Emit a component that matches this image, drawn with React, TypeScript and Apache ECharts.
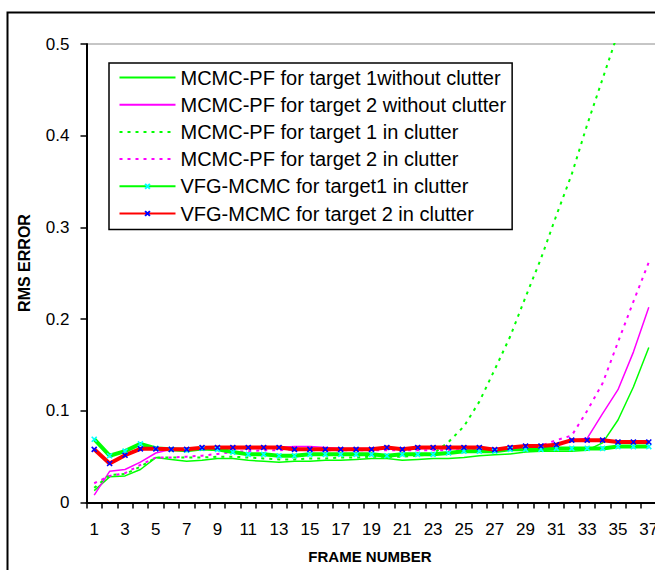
import React, { useEffect, useRef } from 'react';
import * as echarts from 'echarts';

const frames = ['1','2','3','4','5','6','7','8','9','10','11','12','13','14','15','16','17','18','19','20','21','22','23','24','25','26','27','28','29','30','31','32','33','34','35','36','37'];

const yMin = 0;
const yMax = 0.5;
const yStep = 0.1;

const pfT1NoClutter = [0.013,0.028,0.029,0.036,0.049,0.047,0.045,0.046,0.048,0.048,0.046,0.045,0.044,0.045,0.045,0.046,0.046,0.047,0.048,0.048,0.046,0.047,0.048,0.048,0.049,0.051,0.052,0.053,0.055,0.056,0.056,0.056,0.057,0.065,0.09,0.126,0.169];
const pfT2NoClutter = [0.008,0.034,0.036,0.044,0.054,0.058,0.058,0.058,0.059,0.059,0.059,0.059,0.060,0.061,0.061,0.060,0.059,0.059,0.059,0.059,0.059,0.059,0.059,0.059,0.059,0.059,0.058,0.059,0.060,0.061,0.062,0.068,0.070,0.097,0.123,0.164,0.213];
const pfT1Clutter = [0.016,0.030,0.031,0.039,0.049,0.049,0.049,0.049,0.050,0.050,0.049,0.048,0.047,0.047,0.048,0.048,0.049,0.049,0.050,0.050,0.050,0.051,0.053,0.066,0.083,0.110,0.145,0.181,0.224,0.266,0.313,0.358,0.412,0.462,0.512,null,null];
const pfT2Clutter = [0.021,0.029,0.032,0.041,0.049,0.049,0.050,0.051,0.053,0.055,0.056,0.057,0.057,0.058,0.057,0.057,0.057,0.057,0.057,0.057,0.057,0.057,0.057,0.057,0.057,0.057,0.057,0.059,0.060,0.062,0.068,0.073,0.100,0.130,0.175,0.219,0.262];
const vfgT1Clutter = [0.069,0.051,0.056,0.064,0.059,0.058,0.057,0.059,0.058,0.055,0.0525,0.0525,0.051,0.051,0.0525,0.0525,0.0525,0.0525,0.0525,0.051,0.0525,0.0525,0.0525,0.054,0.056,0.056,0.056,0.058,0.058,0.058,0.059,0.059,0.059,0.059,0.061,0.061,0.061];
const vfgT2Clutter = [0.058,0.0425,0.0515,0.0585,0.0585,0.058,0.058,0.0598,0.060,0.060,0.060,0.060,0.060,0.058,0.058,0.058,0.058,0.058,0.058,0.060,0.058,0.060,0.060,0.060,0.060,0.060,0.0576,0.060,0.0616,0.0616,0.063,0.068,0.068,0.068,0.066,0.066,0.066];

const seriesNames = [
  'MCMC-PF for target 1without clutter',
  'MCMC-PF for target 2 without clutter',
  'MCMC-PF for target 1 in clutter',
  'MCMC-PF for target 2 in clutter',
  'VFG-MCMC for target1 in clutter',
  'VFG-MCMC for target 2 in clutter',
];

const FONT = 'Arial, "Liberation Sans", sans-serif';
const XSYM = 'path://M0,0L10,10M10,0L0,10';
const NOFILL = { color: 'rgba(0,0,0,0)', borderColor: 'rgba(0,0,0,0)', borderWidth: 0 };

export default function App() {
  const ref = useRef<HTMLDivElement>(null);
  useEffect(() => {
    const chart = echarts.init(ref.current!, null, { renderer: 'svg' });
    chart.setOption({
      animation: false,
      backgroundColor: '#fff',
      grid: {
        left: 86.5,
        top: 44,
        width: 570,
        height: 458.5,
        show: true,
        borderColor: '#8c8c8c',
        borderWidth: 1,
        backgroundColor: 'transparent',
      },
      legend: {
        orient: 'vertical',
        left: 109,
        top: 63,
        itemWidth: 56,
        itemHeight: 6,
        itemGap: 7.2,
        padding: [4.5, 6, 6, 9.5],
        borderColor: '#000',
        borderWidth: 1.5,
        backgroundColor: '#fff',
        selectedMode: false,
        textStyle: { fontSize: 20, lineHeight: 20, fontFamily: FONT, color: '#000' },
        data: seriesNames,
      },
      xAxis: {
        type: 'category',
        data: frames,
        boundaryGap: true,
        axisLine: { show: true, lineStyle: { color: '#000', width: 2 } },
        axisTick: { show: true, interval: 0, length: 6, inside: false, lineStyle: { color: '#000', width: 1.5 } },
        axisLabel: { interval: 1, fontSize: 17, fontFamily: FONT, color: '#000', margin: 18 },
        splitLine: { show: false },
      },
      yAxis: {
        type: 'value',
        min: yMin,
        max: yMax,
        interval: yStep,
        axisLine: { show: true, lineStyle: { color: '#000', width: 2 } },
        axisTick: { show: true, length: 6, inside: false, lineStyle: { color: '#000', width: 1.5 } },
        axisLabel: { fontSize: 17, fontFamily: FONT, color: '#000', margin: 17 },
        splitLine: { show: false },
      },
      graphic: [
        {
          type: 'rect',
          silent: true,
          shape: { x: 7.5, y: 12.5, width: 680, height: 580 },
          style: { fill: 'none', stroke: '#000', lineWidth: 2 },
          z: 100,
        },
        {
          type: 'text',
          x: 370,
          y: 556,
          style: {
            text: 'FRAME NUMBER',
            font: 'bold 15px ' + FONT,
            fill: '#000',
            align: 'center',
            verticalAlign: 'middle',
          },
        },
        {
          type: 'text',
          x: 24,
          y: 263,
          rotation: Math.PI / 2,
          style: {
            text: 'RMS ERROR',
            font: 'bold 16px ' + FONT,
            fill: '#000',
            align: 'center',
            verticalAlign: 'middle',
          },
        },
      ],
      series: [
        {
          name: seriesNames[0], type: 'line', data: pfT1NoClutter, symbol: 'none',
          lineStyle: { color: '#00FF00', width: 1.5 }, itemStyle: NOFILL,
        },
        {
          name: seriesNames[1], type: 'line', data: pfT2NoClutter, symbol: 'none',
          lineStyle: { color: '#FF00FF', width: 1.5 }, itemStyle: NOFILL,
        },
        {
          name: seriesNames[2], type: 'line', data: pfT1Clutter, symbol: 'none',
          lineStyle: { color: '#00FF00', width: 2, type: [3, 5] }, itemStyle: NOFILL,
        },
        {
          name: seriesNames[3], type: 'line', data: pfT2Clutter, symbol: 'none',
          lineStyle: { color: '#FF00FF', width: 2, type: [3, 5] }, itemStyle: NOFILL,
        },
        {
          name: seriesNames[4], type: 'line', data: vfgT1Clutter, symbol: XSYM, symbolSize: 5,
          showSymbol: true, showAllSymbol: true,
          lineStyle: { color: '#00FF00', width: 4 },
          itemStyle: { color: '#00FFFF', borderColor: '#00FFFF', borderWidth: 1.6 },
        },
        {
          name: seriesNames[5], type: 'line', data: vfgT2Clutter, symbol: XSYM, symbolSize: 5,
          showSymbol: true, showAllSymbol: true,
          lineStyle: { color: '#FF0000', width: 4 },
          itemStyle: { color: '#0000FF', borderColor: '#0000FF', borderWidth: 1.6 },
        },
      ],
    });
    return () => chart.dispose();
  }, []);
  return (
    <div style={{ position: 'absolute', left: 0, top: 0, width: 655, height: 570, overflow: 'hidden', background: '#fff' }}>
      <div ref={ref} style={{ width: 700, height: 600 }} />
    </div>
  );
}
